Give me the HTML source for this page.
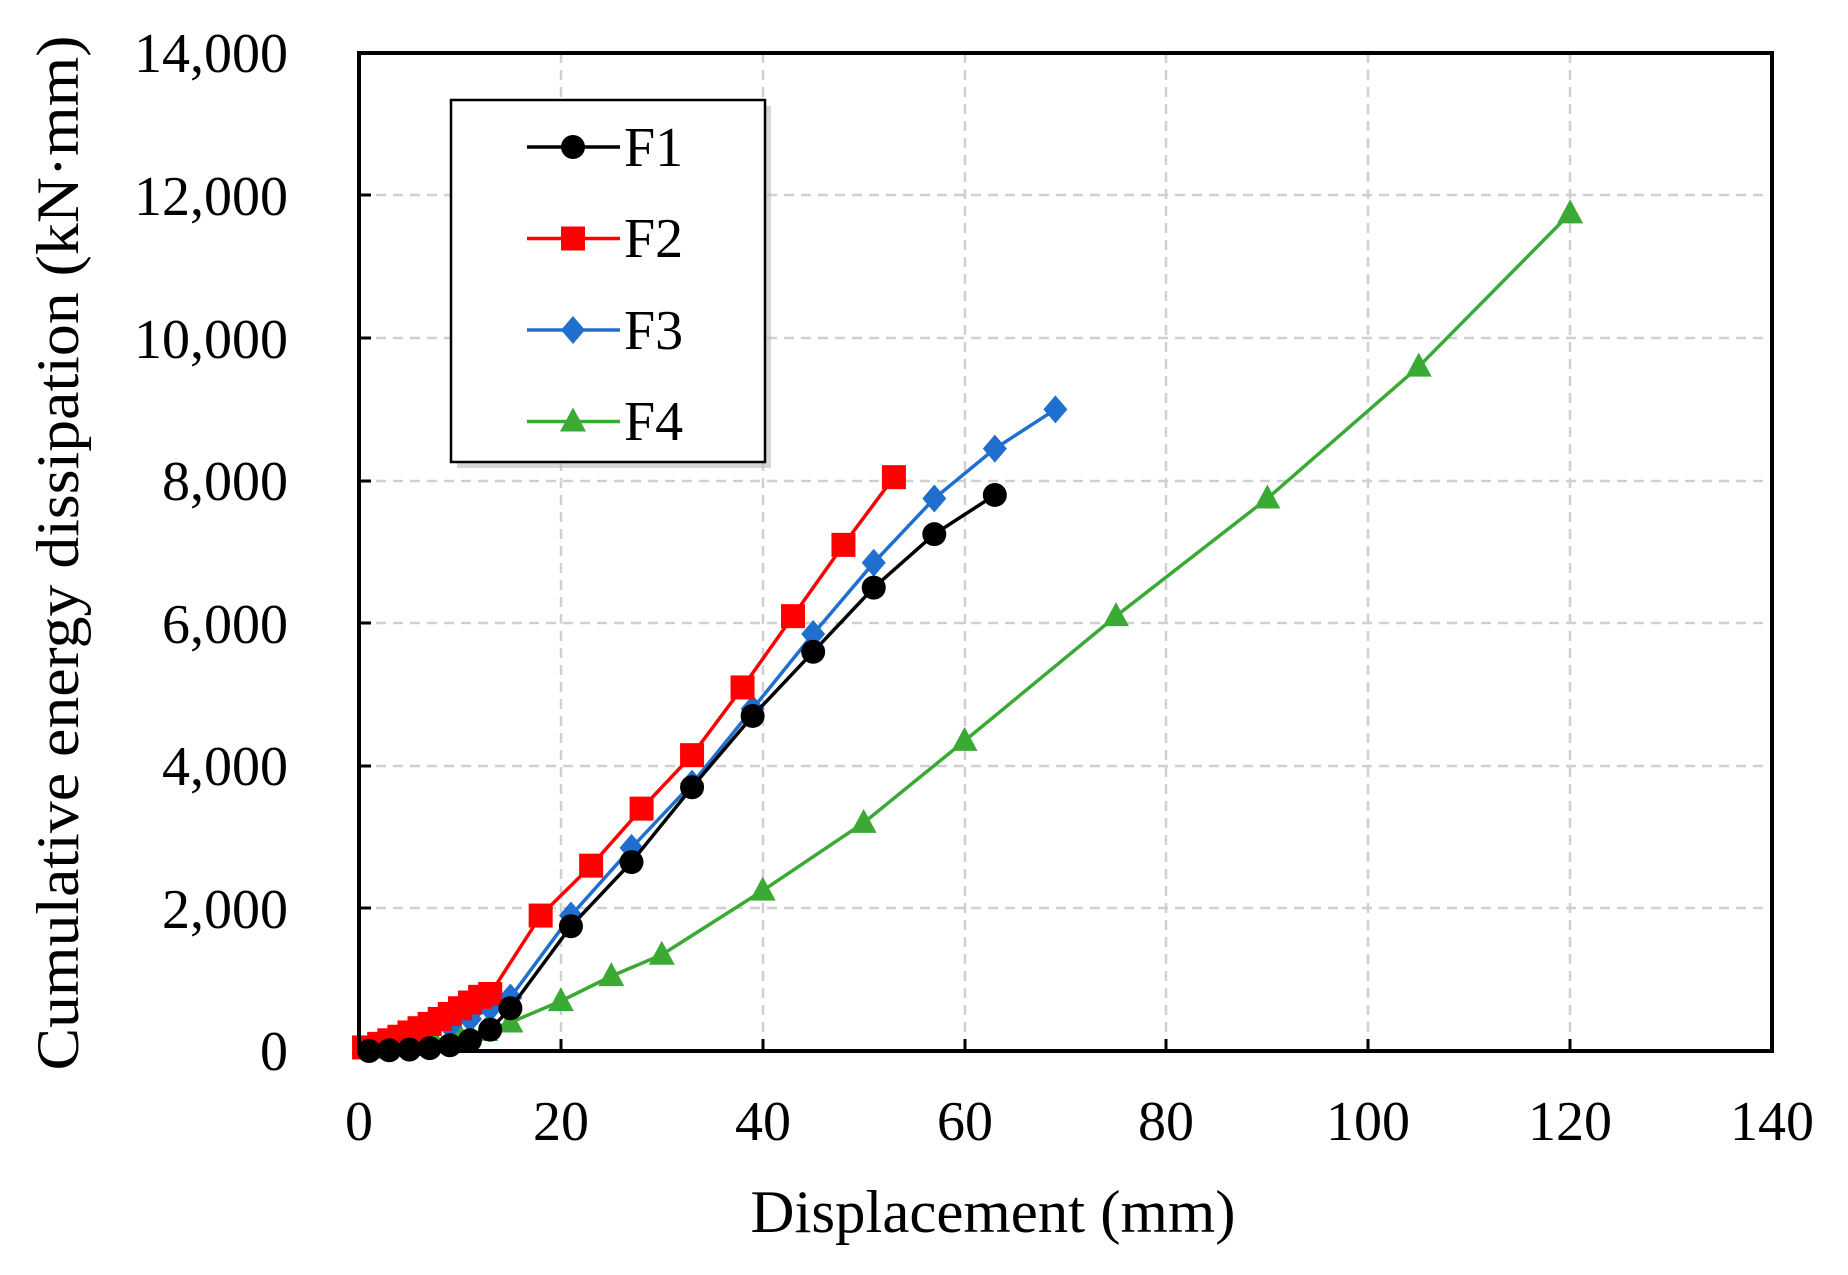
<!DOCTYPE html>
<html><head><meta charset="utf-8"><style>
html,body{margin:0;padding:0;background:#fff}
svg text{font-family:"Liberation Serif",serif;fill:#000}
</style></head><body>
<svg id="s" width="1848" height="1270" xmlns="http://www.w3.org/2000/svg">
<rect width="1848" height="1270" fill="#fff"/>
<g stroke="#d0d0d0" stroke-width="2.5" stroke-dasharray="10,7">
<line x1="561" y1="53" x2="561" y2="1051"/><line x1="763" y1="53" x2="763" y2="1051"/>
<line x1="965" y1="53" x2="965" y2="1051"/><line x1="1166" y1="53" x2="1166" y2="1051"/>
<line x1="1368" y1="53" x2="1368" y2="1051"/><line x1="1570" y1="53" x2="1570" y2="1051"/>
<line x1="359" y1="908" x2="1772" y2="908"/><line x1="359" y1="766" x2="1772" y2="766"/>
<line x1="359" y1="623" x2="1772" y2="623"/><line x1="359" y1="481" x2="1772" y2="481"/>
<line x1="359" y1="338" x2="1772" y2="338"/><line x1="359" y1="195" x2="1772" y2="195"/>
</g>
<g id="series"></g>
<rect x="359" y="53" width="1413" height="998" fill="none" stroke="#000" stroke-width="4"/>
<g stroke="#000" stroke-width="3">
<line x1="561" y1="1051" x2="561" y2="1039"/><line x1="763" y1="1051" x2="763" y2="1039"/>
<line x1="965" y1="1051" x2="965" y2="1039"/><line x1="1166" y1="1051" x2="1166" y2="1039"/>
<line x1="1368" y1="1051" x2="1368" y2="1039"/><line x1="1570" y1="1051" x2="1570" y2="1039"/>
<line x1="359" y1="908" x2="371" y2="908"/><line x1="359" y1="766" x2="371" y2="766"/>
<line x1="359" y1="623" x2="371" y2="623"/><line x1="359" y1="481" x2="371" y2="481"/>
<line x1="359" y1="338" x2="371" y2="338"/><line x1="359" y1="195" x2="371" y2="195"/>
</g>
<g font-size="56" text-anchor="middle">
<text x="359" y="1140">0</text><text x="561" y="1140">20</text><text x="763" y="1140">40</text>
<text x="965" y="1140">60</text><text x="1166" y="1140">80</text><text x="1368" y="1140">100</text>
<text x="1570" y="1140">120</text><text x="1772" y="1140">140</text>
</g>
<g font-size="56" text-anchor="end">
<text x="288" y="1070">0</text><text x="288" y="928">2,000</text><text x="288" y="785">4,000</text>
<text x="288" y="643">6,000</text><text x="288" y="500">8,000</text><text x="288" y="358">10,000</text>
<text x="288" y="215">12,000</text><text x="288" y="72">14,000</text>
</g>
<text x="993" y="1232" font-size="60" text-anchor="middle" textLength="485" lengthAdjust="spacingAndGlyphs">Displacement (mm)</text>
<text transform="translate(78,553) rotate(-90)" font-size="60" text-anchor="middle" textLength="1035" lengthAdjust="spacingAndGlyphs">Cumulative energy dissipation (kN·mm)</text>
<rect x="457" y="106" width="314" height="362" fill="#bbb" opacity="0.6"/>
<rect x="451" y="100" width="314" height="362" fill="#fff" stroke="#000" stroke-width="2.5"/>
<g id="leg"></g>
<g font-size="56">
<text x="624" y="166">F1</text><text x="624" y="257">F2</text>
<text x="624" y="349">F3</text><text x="624" y="440">F4</text>
</g>
</svg>
<script>
const X=v=>359+v*1413/140, Y=v=>1051-v*998/14000;
const S=[
{c:"#000",m:"o",d:[[1,0],[3,10],[5,20],[7,40],[9,80],[11,150],[13,300],[15,600],[21,1750],[27,2650],[33,3700],[39,4700],[45,5600],[51,6500],[57,7250],[63,7800]]},
{c:"#ff0000",m:"s",d:[[0.5,50],[2,100],[3,150],[4,200],[5,260],[6,320],[7,380],[8,450],[9,520],[10,600],[11,680],[12,760],[13,800],[18,1900],[23,2600],[28,3400],[33,4150],[38,5100],[43,6100],[48,7100],[53,8050]]},
{c:"#1f6fcf",m:"d",d:[[1,50],[3,150],[6,250],[9,350],[11,450],[13,600],[15,750],[21,1900],[27,2850],[33,3750],[39,4800],[45,5850],[51,6850],[57,7750],[63,8450],[69,9000]]},
{c:"#3aaa35",m:"t",d:[[2.5,30],[5,70],[7.5,120],[10,200],[12.5,280],[15,400],[20,700],[25,1050],[30,1350],[40,2250],[50,3200],[60,4350],[75,6100],[90,7750],[105,9600],[120,11750]]}];
function mk(m,x,y,c){
 if(m=="o")return `<circle cx="${x}" cy="${y}" r="12" fill="${c}"/>`;
 if(m=="s")return `<rect x="${x-12}" y="${y-12}" width="24" height="24" fill="${c}"/>`;
 if(m=="d")return `<polygon points="${x},${y-14} ${x+12},${y} ${x},${y+14} ${x-12},${y}" fill="${c}"/>`;
 return `<polygon points="${x},${y-14} ${x+13},${y+10} ${x-13},${y+10}" fill="${c}"/>`;
}
let h="",l="";
for(const s of S.slice().reverse()){
 h+=`<polyline fill="none" stroke="${s.c}" stroke-width="3.5" points="${s.d.map(p=>X(p[0])+","+Y(p[1])).join(" ")}"/>`;
 for(const p of s.d)h+=mk(s.m,X(p[0]),Y(p[1]),s.c);
}
S.forEach((s,i)=>{const y=147+i*91.5;
 l+=`<line x1="527" y1="${y}" x2="620" y2="${y}" stroke="${s.c}" stroke-width="3.5"/>`+mk(s.m,573,y,s.c);});
document.getElementById("series").innerHTML=h;
document.getElementById("leg").innerHTML=l;
</script>
</body></html>
